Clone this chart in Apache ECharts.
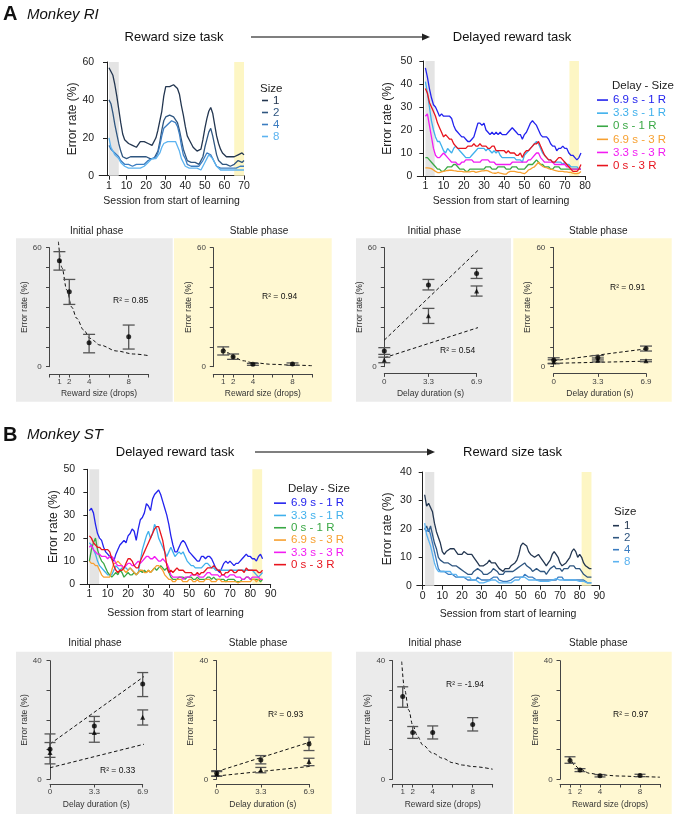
<!DOCTYPE html>
<html><head><meta charset="utf-8">
<script src="https://cdn.jsdelivr.net/npm/echarts@6/dist/echarts.min.js"></script>
<style>html,body{margin:0;padding:0;background:#fff}#c{width:674px;height:814px}</style>
</head><body><div id="c"></div>
<script>
// ---------------- DATA ----------------
const sizeNames = ['1','2','4','8'];
const delayNames = ['6.9 s - 1 R','3.3 s - 1 R','0 s - 1 R','6.9 s - 3 R','3.3 s - 3 R','0 s - 3 R'];

// Panel A, reward size task (sessions 1..70)
const aRewSize1 = [57,56,53,48,42,35,28,22,19,18,17,16,16,16,15,16,18,19,18,18,17,17,16,17,20,24,29,34,42,47,47,47,48,48,49,46,43,37,32,26,21,19,17,15,14,13,12,14,19,25,30,34,36,33,27,21,17,14,12,11,10,10,10,10,10,11,11,12,12,11];
const aRewSize2 = [40,38,33,27,22,17,13,10,9,9,10,10,10,10,10,10,10,10,10,10,9,9,9,9,10,13,18,24,29,31,31,32,32,31,30,28,24,19,14,11,8,7,7,7,7,6,6,7,10,15,19,23,25,21,16,11,8,7,6,6,6,5,5,5,6,7,8,8,7,8];
const aRewSize4 = [16,14,13,12,11,10,8,7,6,6,6,5,5,5,6,6,6,5,6,7,8,8,9,9,10,12,16,21,25,26,27,28,29,29,28,26,22,16,11,9,6,5,5,5,5,5,5,6,8,10,12,12,11,9,7,5,5,4,4,4,4,4,4,4,4,4,4,5,5,5];
const aRewSize8 = [20,15,13,11,10,9,7,6,5,4,4,4,4,4,4,4,4,4,5,6,7,8,9,9,9,10,12,15,17,18,18,18,18,19,18,17,13,9,7,5,5,4,4,4,4,4,3,3,5,7,9,11,11,9,7,5,4,3,3,3,3,3,3,3,3,3,3,3,3,3];

// Panel A, delayed reward task (sessions 1..78)
const aDel69s1R = [47,43,38,34,31,30,28,26,27,26,26,26,26,25,22,20,19,18,17,17,16,15,15,16,17,20,23,23,22,23,20,19,18,19,18,19,18,19,18,18,18,19,20,21,20,19,18,18,16,18,19,21,23,24,23,22,20,18,17,17,17,16,14,13,13,11,12,12,13,12,12,10,9,9,8,7,8,10];
const aDel33s1R = [41,36,30,24,20,17,15,15,13,11,10,12,11,10,12,13,12,11,10,9,8,8,8,9,10,11,12,12,12,12,11,12,11,10,11,10,11,9,8,8,8,8,8,8,8,7,7,7,6,9,10,11,12,13,14,15,14,12,10,9,8,7,7,6,6,6,6,6,5,6,5,5,4,4,4,4,3,3];
const aDel0s1R = [8,8,7,6,5,4,3,3,2,2,3,4,4,4,5,5,4,3,3,3,2,2,3,3,3,3,3,3,3,3,4,4,4,3,3,3,4,4,4,4,3,3,3,4,4,4,3,3,3,3,4,5,5,5,6,7,6,5,5,4,4,4,3,3,4,4,4,3,3,3,3,3,3,3,3,3,3,3];
const aDel69s3R = [3.5,3.5,3.4,3.2,2.6,2,1.5,1.5,1.8,2,2.2,2.4,2.5,2.5,2.3,2.2,2,2,2,1.8,1.8,1.8,1.8,2,2,1.6,1.8,2,2.2,2.2,2.4,2.2,1.8,1.4,1.2,1.2,1.6,1.2,1,0.8,0.8,1.6,2,2,2,1.8,1.6,1.6,1.2,1,1.6,2.6,3,3.6,4,5,6,5,4.2,3.8,3.6,3.2,3,2.8,2.4,2.2,2,2,2,1.8,1.8,1.6,1.6,1.2,1,1,1.2,2];
const aDel33s3R = [26,27,22,17,12,9,8,8,9,10,9,8,7,6,6,6,5,5,6,6,7,7,7,7,6,6,6,6,7,7,7,7,6,6,6,5,5,5,5,5,5,5,5,6,6,6,6,6,6,6,6,7,7,8,9,10,10,8,7,6,6,6,6,6,5,5,5,5,5,5,4,4,3,3,3,3,3,3];
const aDel0s3R = [38,36,32,30,28,26,23,21,19,17,18,17,16,16,14,13,12,12,12,12,12,13,13,13,14,13,13,14,13,13,13,12,12,13,13,11,11,11,11,11,10,11,10,10,10,9,9,10,8,10,11,11,12,13,14,14,15,13,11,9,8,7,7,6,6,7,8,8,7,6,5,4,3,2,2,2,3,5];

// Panel B, delayed reward task (sessions 1..86)
const bDel69s1R = [32,33,31,26,22,20,19,16,14,13,12,11,10,13,15,17,18,19,18,21,22,24,23,19,24,28,29,31,35,34,32,37,39,40,41,39,36,33,30,26,21,17,14,14,16,18,19,18,16,14,13,12,11,10,10,12,12,11,12,12,11,9,7,6,5,7,9,10,9,10,9,8,9,9,10,11,12,13,12,12,11,11,10,12,13,11];
const bDel33s1R = [18,17,15,13,10,8,7,6,5,4,4,4,6,8,7,6,7,7,7,6,7,6,5,4,5,10,15,18,21,23,20,22,26,24,20,18,16,14,12,14,16,14,12,13,14,13,14,12,10,9,8,8,7,7,7,7,8,9,9,8,7,7,6,6,6,6,6,6,6,6,6,6,6,6,6,6,6,6,6,6,6,5,4,3,4,5];
const bDel0s1R = [10,15,18,20,15,12,10,9,7,5,4,3,4,5,4,6,5,3,4,5,4,4,5,4,5,6,5,6,5,6,5,6,7,6,7,8,7,6,7,5,3,2,2,2,3,3,3,2,3,3,3,2,2,3,2,2,2,2,3,3,2,3,2,2,2,2,2,1,2,2,2,2,1,1,1,2,2,3,3,2,2,2,2,2,1,2];
const bDel69s3R = [10,9,9,8,8,6,4,3,3,3,3,6,9,9,10,9,8,6,5,6,7,6,5,4,5,6,6,5,5,6,5,6,7,8,8,7,6,4,3,2,2,1,1,2,2,2,1,1,1,2,2,1,1,2,1,1,1,2,2,2,1,1,1,2,2,1,1,1,1,1,1,1,1,0.5,1,1,1,1,1,1,2,2,1,2,2,2];
const bDel33s3R = [16,17,15,14,13,13,12,12,12,11,12,12,11,9,8,8,8,7,8,9,9,8,8,9,10,9,10,11,12,12,11,11,12,11,10,10,11,10,9,7,4,3,3,3,3,3,2,3,3,3,4,4,4,4,3,3,3,4,5,5,4,4,4,4,3,4,4,3,3,4,4,4,3,3,3,2,2,3,3,2,3,3,3,3,2,2];
const bDel0s3R = [21,20,18,17,16,16,15,15,15,15,14,11,8,6,5,6,6,7,9,11,11,10,8,7,7,10,12,14,16,18,20,22,24,25,25,22,19,14,8,5,6,5,6,7,6,6,6,5,5,5,5,4,4,5,4,5,5,6,7,7,7,8,7,6,6,4,4,5,5,6,6,5,5,6,6,6,5,7,6,6,6,6,6,5,5,6];

// Panel B, reward size task (sessions 1..86)
const bRewSize1 = [32,28,29,29,26,22,19,19,15,12,11,12,12,13,13,13,12,11,11,11,12,12,11,11,11,10,9,8,7,7,7,7,8,9,8,8,8,7,6,6,5,6,6,6,7,7,8,9,11,14,15,15,14,12,11,11,10,10,11,10,9,8,7,8,9,11,12,11,10,8,7,7,8,9,10,12,13,12,10,11,10,8,7,7,6,6];
const bRewSize2 = [20,21,19,21,18,15,13,10,9,9,8,8,8,8,7,7,7,7,6,6,5,5,4,4,4,5,5,6,6,5,4,4,4,4,5,6,6,5,4,4,4,5,5,5,5,5,5,6,6,7,7,8,7,7,6,5,5,6,6,5,5,5,4,5,6,6,7,6,6,6,5,6,6,6,7,7,7,6,6,6,5,4,4,3,3,3];
const bRewSize4 = [20,19,20,18,15,12,9,6,5,5,5,5,4,4,4,4,3,3,3,3,3,3,2,2,2,2,2,3,3,2,2,2,2,2,2,3,3,3,2,2,1.5,1.5,1.5,2,2,2,3,3,3,3,3,4,4,3,3,3,3,2,2,2,2,2,2,2,2,2,2,2,3,3,3,2,2,2,2,2,2,2,2,2,2,2,1.5,1,1,1];
const bRewSize8 = [22,18,16,14,11,8,6,5,5,5,5,5,5,5,4,4,4,3,3,3,3,3,3,3,2,2,2,2,1,1,1,1,1.5,2,2,2,2,1.5,1,1,1,1,1,1,1,1.5,2,2,2,3,3,3,3,2,2,2,2,2,1.5,1.5,1.5,1.5,1.5,1.5,2,2,2,2.5,2.5,2,2,2,2,2,2,2,2,2,2,1.5,1.5,1.5,1.5,1,1,1];

// shaded session ranges (initial / stable)
const aRewBands = [[1,6],[65,70]];
const aDelBands = [[1,5.6],[72.3,77]];
const bDelBands = [[1,5.8],[81,85.8]];
const bRewBands = [[1.2,5.9],[81,86]];

// tick labels
const ticksA1 = [1,10,20,30,40,50,60,70];
const ticksA2 = [1,10,20,30,40,50,60,70,80];
const ticksB1 = [1,10,20,30,40,50,60,70,80,90];
const ticksB2 = [0,10,20,30,40,50,60,70,80,90];
const rewardTicks = [0,1,2,4,6,8,10];
const rewardLabels = [1,2,4,8];
const delays = [0,3.3,6.9];
const rewardSizes = [1,2,4,8];

// summary panels: mean / low / high
const aIniRewMean=[53.4,37.8,12.1,15.1], aIniRewLow=[48.7,31.4,7.0,8.9], aIniRewHigh=[58.0,44.0,16.3,21.0];
const aIniRewFitX=[0.9,1.25,1.75,2.25,2.75,3.45,4.1,5.1,6.8,8.5,10.2], aIniRewFitY=[63,50,38.7,30,24.4,18.5,14.3,10.9,7.9,6.4,5.4];
const aStaRewMean=[7.9,5.0,1.2,1.3], aStaRewLow=[5.9,3.7,0.7,0.7], aStaRewHigh=[10.0,6.4,1.7,1.9];
const aStaRewFitX=[1,1.5,2,3,4,6,8,10], aStaRewFitY=[9.6,7,5,3,2,1.2,0.8,0.5];
const aIniDel1Mean=[7.9,41.2,47.0], aIniDel1Low=[6.2,38.7,44.5], aIniDel1High=[9.6,44.0,49.6];
const aIniDel3Mean=[3.4,25.7,38.2], aIniDel3Low=[2.0,21.8,35.6], aIniDel3High=[4.8,29.4,40.7];
const aIniDelFitX=[0,7.6], aIniDelFitUp=[13.4,62.5], aIniDelFitLo=[4.5,21];
const aStaDel1Mean=[3.4,4.5,9.2], aStaDel1Low=[1.7,3.4,7.9], aStaDel1High=[4.5,5.6,10.4];
const aStaDel3Mean=[2.5,3.4,3.0], aStaDel3Low=[1.5,2.4,2.5], aStaDel3High=[3.5,4.4,3.5];
const aStaDelFitX=[0,7.6], aStaDelFitUp=[3,9.6], aStaDelFitLo=[1.7,2.9];
const bIniDel1Mean=[10.1,18.0,32.1], bIniDel1Low=[7.4,15.5,27.9], bIniDel1High=[15.3,21.2,36.0];
const bIniDel3Mean=[9.0,15.8,20.9], bIniDel3Low=[5.2,12.5,18.3], bIniDel3High=[12.4,19.5,23.4];
const bIniDelFitX=[0,7.5], bIniDelFitUp=[11.9,36.3], bIniDelFitLo=[3.9,12.4];
const bStaDel1Mean=[2.0,6.5,11.9], bStaDel1Low=[1.1,5.2,9.7], bStaDel1High=[2.9,8.0,14.2];
const bStaDel3Mean=[1.8,3.1,6.0], bStaDel3Low=[1.0,2.2,4.6], bStaDel3High=[2.6,4.0,7.1];
const bStaDelFitX=[0,7.5], bStaDelFitUp=[2.6,13.3], bStaDelFitLo=[1.1,4.6];
const bIniRewMean=[27.9,15.8,15.8,18.5], bIniRewLow=[24.3,13.8,13.6,16.3], bIniRewHigh=[31.2,17.8,18.0,20.8];
const bIniRewFitX=[0.9,1.2,1.6,2,2.5,3,4,5,6,7,8,10], bIniRewFitY=[39.7,30.1,23.4,18.3,14.4,11.6,8.8,7.1,5.6,4.8,4.3,3.4];
const bStaRewMean=[6.3,3.1,1.2,1.3], bStaRewLow=[5.4,2.6,0.8,0.9], bStaRewHigh=[7.6,3.6,1.6,1.7];
const bStaRewFitX=[0.9,1,1.5,2,3,4,6,8,10], bStaRewFitY=[7.6,6.7,4.6,3.4,2.0,1.5,1.1,0.9,0.7];
const r2Texts = ['R² = 0.85','R² = 0.94','R² = 0.54','R² = 0.91','R² = 0.33','R² = 0.93','R² = -1.94','R² = 0.97'];

// ---------------- STYLE ----------------
const FONT = '"Liberation Sans", Arial, Helvetica, sans-serif';
const sizeColors = ['#233650','#2f5680','#3b7cc0','#5cb3f0'];
const delayColors = ['#2323ee','#3fb0ec','#3aa845','#f7a030','#f21cf2','#e8141e'];
const GREY_BAND='#e4e4e4', YEL_BAND='#fdf6c4', GREY_BG='#ebebeb', YEL_BG='#fff8d2';

const option = {animation:false, backgroundColor:'#fff', grid:[], xAxis:[], yAxis:[], series:[], legend:[], graphic:[]};

function addTop(c){
  const gi = option.grid.length;
  option.grid.push({left:c.left, top:c.top, width:c.width, height:c.height});
  option.xAxis.push({gridIndex:gi, type:'value', min:c.xmin, max:c.xmax,
    axisLine:{show:true, onZero:false, lineStyle:{color:'#222', width:1}},
    axisTick:{show:true, customValues:c.xticks, length:4, lineStyle:{color:'#222'}},
    axisLabel:{show:true, customValues:c.xticks, fontSize:10.5, color:'#222', margin:5, fontFamily:FONT},
    splitLine:{show:false},
    name:'Session from start of learning', nameLocation:'middle', nameGap:c.xgap,
    nameTextStyle:{fontSize:10.5, color:'#222', fontFamily:FONT}});
  option.yAxis.push({gridIndex:gi, type:'value', min:0, max:c.ymax, interval:c.yint,
    axisLine:{show:true, lineStyle:{color:'#222', width:1}},
    axisTick:{show:true, length:4, lineStyle:{color:'#222'}},
    axisLabel:{fontSize:10.5, color:'#222', margin:5, fontFamily:FONT},
    splitLine:{show:false},
    name:'Error rate (%)', nameLocation:'middle', nameGap:c.ygap,
    nameTextStyle:{fontSize:12, color:'#222', fontFamily:FONT}});
  c.series.forEach((s,k)=>{
    const ser = {type:'line', name:s.name, xAxisIndex:gi, yAxisIndex:gi,
      data:s.values.map((v,i)=>[i+1,v]), showSymbol:false, symbol:'none',
      lineStyle:{width:1.3, color:s.color}, itemStyle:{color:s.color}, z:3};
    if(k===0){
      ser.markArea = {silent:true, data:[
        [{xAxis:c.bands[0][0], itemStyle:{color:GREY_BAND}},{xAxis:c.bands[0][1]}],
        [{xAxis:c.bands[1][0], itemStyle:{color:YEL_BAND}},{xAxis:c.bands[1][1]}]]};
    }
    option.series.push(ser);
  });
}

function errRender(hw){
  return function(params, api){
    const x = api.value(0), lo = api.value(1), hi = api.value(2);
    const p1 = api.coord([x,hi]), p2 = api.coord([x,lo]);
    const st = {stroke:'#555', lineWidth:1.3};
    return {type:'group', children:[
      {type:'line', shape:{x1:p1[0],y1:p1[1],x2:p2[0],y2:p2[1]}, style:st},
      {type:'line', shape:{x1:p1[0]-hw,y1:p1[1],x2:p1[0]+hw,y2:p1[1]}, style:st},
      {type:'line', shape:{x1:p2[0]-hw,y1:p2[1],x2:p2[0]+hw,y2:p2[1]}, style:st}]};
  };
}

function addSmall(c){
  const gi = option.grid.length;
  option.grid.push({left:c.left, top:c.top, width:c.width, height:c.height});
  option.xAxis.push({gridIndex:gi, type:'value', min:0, max:c.xmax, offset:c.xoff,
    axisLine:{show:true, onZero:false, lineStyle:{color:'#444'}},
    axisTick:{show:true, customValues:c.xticks, length:3.5, lineStyle:{color:'#444'}},
    axisLabel:{show:true, customValues:c.xlabels, fontSize:8, color:'#444', margin:4, fontFamily:FONT},
    splitLine:{show:false}, name:c.xname, nameLocation:'middle', nameGap:c.xgap,
    nameTextStyle:{fontSize:8.5, color:'#333', fontFamily:FONT}});
  const ym = c.ymax;
  option.yAxis.push({gridIndex:gi, type:'value', min:0, max:ym, interval:10, offset:c.yoff,
    axisLine:{show:true, lineStyle:{color:'#444'}},
    axisTick:{show:true, length:3.5, lineStyle:{color:'#444'}},
    axisLabel:{fontSize:8, color:'#444', margin:4, fontFamily:FONT, formatter:v=>(v===0||v===ym)?String(v):''},
    splitLine:{show:false}, name:'Error rate (%)', nameLocation:'middle', nameGap:c.ygap,
    nameTextStyle:{fontSize:8.5, color:'#333', fontFamily:FONT}});
  c.fits.forEach(f=>{
    option.series.push({type:'line', xAxisIndex:gi, yAxisIndex:gi, data:f.x.map((x,i)=>[x,f.y[i]]),
      smooth:c.smooth?0.35:false, smoothMonotone:'x', clip:false, showSymbol:false, symbol:'none',
      lineStyle:{type:[3.5,2.5], color:'#111', width:1}, z:3, silent:true});
  });
  c.groups.forEach(g=>{
    option.series.push({type:'custom', xAxisIndex:gi, yAxisIndex:gi, renderItem:errRender(c.cap),
      data:c.xs.map((x,i)=>[x,g.low[i],g.high[i]]), encode:{x:0,y:[1,2]}, clip:false, z:4, silent:true});
    option.series.push({type:'scatter', xAxisIndex:gi, yAxisIndex:gi, data:c.xs.map((x,i)=>[x,g.mean[i]]),
      symbol:g.symbol, symbolSize:g.size, itemStyle:{color:'#000'}, z:5, silent:true});
  });
}

// ---- top line charts ----
addTop({left:99.2, top:62, width:144.8, height:113.7, xmin:-4, xmax:70, xticks:ticksA1, ymax:60, yint:20, xgap:20, ygap:19, bands:aRewBands,
  series:[aRewSize1,aRewSize2,aRewSize4,aRewSize8].map((v,i)=>({name:sizeNames[i], values:v, color:sizeColors[i]}))});
addTop({left:417.3, top:61, width:167.7, height:115, xmin:-3, xmax:80, xticks:ticksA2, ymax:50, yint:10, xgap:20, ygap:24, bands:aDelBands,
  series:[aDel69s1R,aDel33s1R,aDel0s1R,aDel69s3R,aDel33s3R,aDel0s3R].map((v,i)=>({name:delayNames[i], values:v, color:delayColors[i]}))});
addTop({left:80.2, top:469.3, width:190.5, height:114.7, xmin:-3.5, xmax:90, xticks:ticksB1, ymax:50, yint:10, xgap:24, ygap:18.3, bands:bDelBands,
  series:[bDel69s1R,bDel33s1R,bDel0s1R,bDel69s3R,bDel33s3R,bDel0s3R].map((v,i)=>({name:delayNames[i], values:v, color:delayColors[i]}))});
addTop({left:416.8, top:472, width:182.5, height:113.7, xmin:-3, xmax:90, xticks:ticksB2, ymax:40, yint:10, xgap:22.6, ygap:23.5, bands:bRewBands,
  series:[bRewSize1,bRewSize2,bRewSize4,bRewSize8].map((v,i)=>({name:sizeNames[i], values:v, color:sizeColors[i]}))});

// ---- summary panels ----
const rewX = {xmax:10, xticks:rewardTicks, xlabels:rewardLabels, xname:'Reward size (drops)', xs:rewardSizes, smooth:true};
const delX = {xmax:6.9, xticks:delays, xlabels:delays, xname:'Delay duration (s)', xs:delays, smooth:false};
const CIRC = {symbol:'circle', size:5}, TRI = {symbol:'triangle', size:5};

addSmall(Object.assign({}, rewX, {left:49.5, top:247.7, width:99, height:119, ymax:60, xoff:7.3, yoff:3.8, xgap:15, ygap:11.5, cap:6,
  fits:[{x:aIniRewFitX, y:aIniRewFitY}], groups:[Object.assign({mean:aIniRewMean, low:aIniRewLow, high:aIniRewHigh}, CIRC)]}));
addSmall(Object.assign({}, rewX, {left:213.3, top:247.7, width:99, height:119, ymax:60, xoff:7.3, yoff:3.3, xgap:15, ygap:12.5, cap:6,
  fits:[{x:aStaRewFitX, y:aStaRewFitY}], groups:[Object.assign({mean:aStaRewMean, low:aStaRewLow, high:aStaRewHigh}, CIRC)]}));
addSmall(Object.assign({}, delX, {left:384.3, top:247.7, width:92.3, height:119, ymax:60, xoff:6.7, yoff:3.6, xgap:15.5, ygap:11.5, cap:6,
  fits:[{x:aIniDelFitX, y:aIniDelFitUp},{x:aIniDelFitX, y:aIniDelFitLo}],
  groups:[Object.assign({mean:aIniDel1Mean, low:aIniDel1Low, high:aIniDel1High}, CIRC), Object.assign({mean:aIniDel3Mean, low:aIniDel3Low, high:aIniDel3High}, TRI)]}));
addSmall(Object.assign({}, delX, {left:553.7, top:247.7, width:92.3, height:119, ymax:60, xoff:6.7, yoff:4.4, xgap:15.5, ygap:13, cap:6,
  fits:[{x:aStaDelFitX, y:aStaDelFitUp},{x:aStaDelFitX, y:aStaDelFitLo}],
  groups:[Object.assign({mean:aStaDel1Mean, low:aStaDel1Low, high:aStaDel1High}, CIRC), Object.assign({mean:aStaDel3Mean, low:aStaDel3Low, high:aStaDel3High}, TRI)]}));
addSmall(Object.assign({}, delX, {left:50, top:660.7, width:92.7, height:118.6, ymax:40, xoff:4.7, yoff:4.3, xgap:16, ygap:14, cap:5.5,
  fits:[{x:bIniDelFitX, y:bIniDelFitUp},{x:bIniDelFitX, y:bIniDelFitLo}],
  groups:[Object.assign({mean:bIniDel1Mean, low:bIniDel1Low, high:bIniDel1High}, CIRC), Object.assign({mean:bIniDel3Mean, low:bIniDel3Low, high:bIniDel3High}, TRI)]}));
addSmall(Object.assign({}, delX, {left:216.7, top:660.7, width:92.3, height:118.6, ymax:40, xoff:4.7, yoff:4.4, xgap:16, ygap:14, cap:5.5,
  fits:[{x:bStaDelFitX, y:bStaDelFitUp},{x:bStaDelFitX, y:bStaDelFitLo}],
  groups:[Object.assign({mean:bStaDel1Mean, low:bStaDel1Low, high:bStaDel1High}, CIRC), Object.assign({mean:bStaDel3Mean, low:bStaDel3Low, high:bStaDel3High}, TRI)]}));
addSmall(Object.assign({}, rewX, {left:392.7, top:660.7, width:100, height:118.6, ymax:40, xoff:4.7, yoff:3.4, xgap:16, ygap:13.5, cap:5.5,
  fits:[{x:bIniRewFitX, y:bIniRewFitY}], groups:[Object.assign({mean:bIniRewMean, low:bIniRewLow, high:bIniRewHigh}, CIRC)]}));
addSmall(Object.assign({}, rewX, {left:560, top:660.7, width:100, height:118.6, ymax:40, xoff:4.7, yoff:3.3, xgap:16, ygap:15.5, cap:5.5,
  fits:[{x:bStaRewFitX, y:bStaRewFitY}], groups:[Object.assign({mean:bStaRewMean, low:bStaRewLow, high:bStaRewHigh}, CIRC)]}));

// ---- legends ----
function legend(left, top, lh, iw, names, colors){
  option.legend.push({left:left, top:top, orient:'vertical', icon:'rect', itemWidth:iw, itemHeight:1.6, itemGap:0,
    padding:0, selectedMode:false,
    textStyle:{fontSize:11.5, fontFamily:FONT, lineHeight:lh},
    data:names.map((n,i)=>({name:n, textStyle:{color:colors[i]}}))});
}
legend(262, 94.5, 11, 6, sizeNames, sizeColors);
legend(597, 93.5, 13.1, 11, delayNames, delayColors);
legend(274, 497, 12.3, 12, delayNames, delayColors);
legend(613, 519.7, 10.6, 6, sizeNames, sizeColors);

// ---- graphics: backgrounds, titles, arrows ----
function rect(x,y,w,h,color){ option.graphic.push({type:'rect', shape:{x:x,y:y,width:w,height:h}, style:{fill:color}, z:-10, silent:true}); }
function text(x,y,t,size,opt){
  opt = opt||{};
  option.graphic.push({type:'text', x:x, y:y, z:50, silent:true, style:{text:t, fontSize:size, fontFamily:FONT,
    fontWeight:opt.weight||'normal', fontStyle:opt.style||'normal', fill:opt.color||'#111',
    align:opt.align||'center', verticalAlign:'middle', textAlign:opt.align||'center', textVerticalAlign:'middle'}});
}
function arrow(x1,x2,y){
  option.graphic.push({type:'line', shape:{x1:x1,y1:y,x2:x2-4,y2:y}, style:{stroke:'#555', lineWidth:1.3}, z:50, silent:true});
  option.graphic.push({type:'polygon', shape:{points:[[x2,y],[x2-8,y-3.5],[x2-8,y+3.5]]}, style:{fill:'#222'}, z:50, silent:true});
}
rect(16,238.3,156.7,163.4,GREY_BG); rect(174,238.3,157.7,163.4,YEL_BG);
rect(356,238.3,155,163.4,GREY_BG); rect(513.3,238.3,158.4,163.4,YEL_BG);
rect(16,651.7,156.7,162.3,GREY_BG); rect(174,651.7,157.7,162.3,YEL_BG);
rect(356,651.7,156.7,162.3,GREY_BG); rect(514,651.7,157.7,162.3,YEL_BG);

text(3,14,'A',20,{weight:'bold',align:'left'});
text(27,15,'Monkey RI',15,{style:'italic',align:'left'});
text(174,37,'Reward size task',13);
arrow(251,430,37);
text(512,37,'Delayed reward task',13);
text(260,89,'Size',11.5,{align:'left',color:'#222'});
text(612,86,'Delay - Size',11.5,{align:'left',color:'#222'});

text(3,435,'B',20,{weight:'bold',align:'left'});
text(27,435,'Monkey ST',15,{style:'italic',align:'left'});
text(175,452,'Delayed reward task',13);
arrow(255,435,452);
text(512.5,452,'Reward size task',13);
text(288,489,'Delay - Size',11.5,{align:'left',color:'#222'});
text(614,511.7,'Size',11.5,{align:'left',color:'#222'});

const phaseTitles = [[96.7,231.7,'Initial phase'],[259,231.7,'Stable phase'],[434.3,231.7,'Initial phase'],[598.3,231.7,'Stable phase'],
  [95,643.3,'Initial phase'],[258,643.3,'Stable phase'],[435,643.3,'Initial phase'],[598.3,643.3,'Stable phase']];
phaseTitles.forEach(p=>text(p[0],p[1],p[2],10,{color:'#222'}));
const r2Pos = [[113,300.7],[262,297],[440,351],[610,288],[100,770.7],[268,714.3],[446,685],[613,714.3]];
r2Pos.forEach((p,i)=>text(p[0],p[1],r2Texts[i],8.5,{align:'left',color:'#111'}));

const chart = echarts.init(document.getElementById('c'), null, {renderer:'canvas'});
chart.setOption(option);
</script></body></html>
